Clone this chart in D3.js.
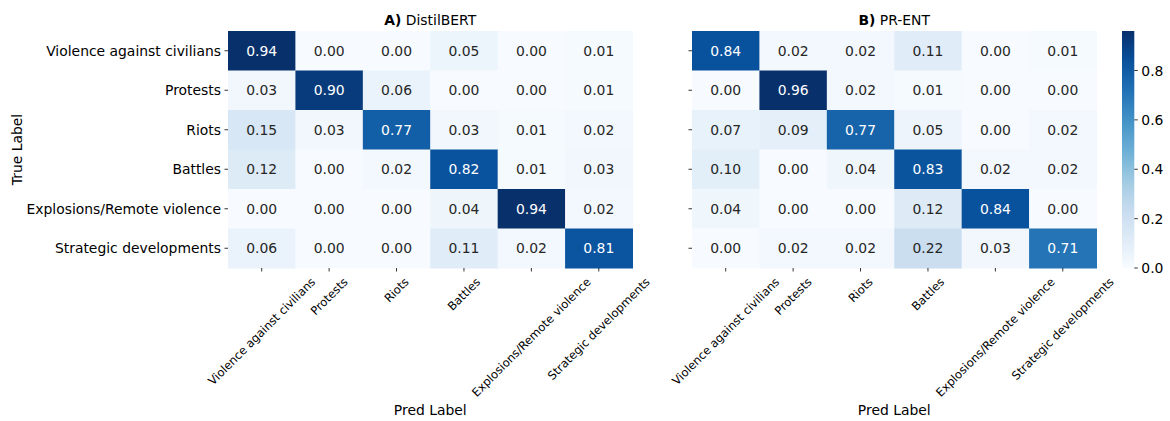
<!DOCTYPE html>
<html>
<head>
<meta charset="utf-8">
<script src="https://cdn.jsdelivr.net/npm/d3@7"></script>
<style>
  body { margin: 0; background: #fff; }
  svg { font-family: "DejaVu Sans", sans-serif; font-size: 13.9px; }
</style>
</head>
<body>
<svg id="chart" width="1170" height="421"></svg>
<script>
// Class names (rows = true label, cols = predicted label)
const categories = [
  "Violence against civilians",
  "Protests",
  "Riots",
  "Battles",
  "Explosions/Remote violence",
  "Strategic developments"
];

const distilbertValues = [
  [0.94, 0.00, 0.00, 0.05, 0.00, 0.01],
  [0.03, 0.90, 0.06, 0.00, 0.00, 0.01],
  [0.15, 0.03, 0.77, 0.03, 0.01, 0.02],
  [0.12, 0.00, 0.02, 0.82, 0.01, 0.03],
  [0.00, 0.00, 0.00, 0.04, 0.94, 0.02],
  [0.06, 0.00, 0.00, 0.11, 0.02, 0.81]
];

const prentValues = [
  [0.84, 0.02, 0.02, 0.11, 0.00, 0.01],
  [0.00, 0.96, 0.02, 0.01, 0.00, 0.00],
  [0.07, 0.09, 0.77, 0.05, 0.00, 0.02],
  [0.10, 0.00, 0.04, 0.83, 0.02, 0.02],
  [0.04, 0.00, 0.00, 0.12, 0.84, 0.00],
  [0.00, 0.02, 0.02, 0.22, 0.03, 0.71]
];

const colorbarTicks = [0.0, 0.2, 0.4, 0.6, 0.8];

// matplotlib "Blues" segment colours
const BLUES = ["#f7fbff", "#deebf7", "#c6dbef", "#9ecae1", "#6baed6",
               "#4292c6", "#2171b5", "#08519c", "#08306b"];

const TICK = 3.5, PAD = 3.5;
const XLAB_SIZE = 11.6;
const plotTop = 31, plotBottom = 268;

const svg = d3.select("#chart");

function bluesScale(vmin, vmax) {
  const stops = BLUES.map((c, i) => vmin + (vmax - vmin) * i / (BLUES.length - 1));
  return d3.scaleLinear().domain(stops).range(BLUES).interpolate(d3.interpolateRgb).clamp(true);
}

// seaborn picks annotation colour by relative luminance
function textColor(fill) {
  const c = d3.rgb(fill);
  const lin = v => { v /= 255; return v <= 0.03928 ? v / 12.92 : Math.pow((v + 0.055) / 1.055, 2.4); };
  const lum = 0.2126 * lin(c.r) + 0.7152 * lin(c.g) + 0.0722 * lin(c.b);
  return lum > 0.408 ? "#262626" : "#ffffff";
}

function drawHeatmap(values, x0, x1, letter, name, showYLabels) {
  const g = svg.append("g");
  const flat = values.flat();
  const color = bluesScale(d3.min(flat), d3.max(flat));

  const x = d3.scaleBand().domain(categories).range([x0, x1]);
  const y = d3.scaleBand().domain(categories).range([plotTop, plotBottom]);

  const cells = [];
  values.forEach((row, i) => row.forEach((v, j) => cells.push({ r: categories[i], c: categories[j], v })));

  g.selectAll("rect.cell").data(cells).enter().append("rect")
    .attr("class", "cell")
    .attr("x", d => x(d.c))
    .attr("y", d => y(d.r))
    .attr("width", x.bandwidth() + 0.5)
    .attr("height", y.bandwidth() + 0.5)
    .attr("fill", d => color(d.v));

  g.selectAll("text.annot").data(cells).enter().append("text")
    .attr("class", "annot")
    .attr("x", d => x(d.c) + x.bandwidth() / 2)
    .attr("y", d => y(d.r) + y.bandwidth() / 2)
    .attr("text-anchor", "middle")
    .attr("dominant-baseline", "central")
    .attr("fill", d => textColor(color(d.v)))
    .text(d => d.v.toFixed(2));

  // y ticks
  g.selectAll("line.ytick").data(categories).enter().append("line")
    .attr("x1", x0 - TICK).attr("x2", x0)
    .attr("y1", d => y(d) + y.bandwidth() / 2)
    .attr("y2", d => y(d) + y.bandwidth() / 2)
    .attr("stroke", "#000").attr("stroke-width", 0.8);

  if (showYLabels) {
    g.selectAll("text.ylab").data(categories).enter().append("text")
      .attr("x", x0 - TICK - PAD)
      .attr("y", d => y(d) + y.bandwidth() / 2)
      .attr("text-anchor", "end")
      .attr("dominant-baseline", "central")
      .text(d => d);
  }

  // x ticks
  g.selectAll("line.xtick").data(categories).enter().append("line")
    .attr("x1", d => x(d) + x.bandwidth() / 2)
    .attr("x2", d => x(d) + x.bandwidth() / 2)
    .attr("y1", plotBottom).attr("y2", plotBottom + TICK)
    .attr("stroke", "#000").attr("stroke-width", 0.8);

  // rotated x labels, bbox centred on tick (matplotlib default rotation mode)
  const fontH = XLAB_SIZE * 1.17;
  g.selectAll("g.xlab").data(categories).enter().append("g")
    .each(function (d) {
      const gg = d3.select(this);
      const t = gg.append("text")
        .attr("font-size", XLAB_SIZE)
        .attr("text-anchor", "middle")
        .attr("dominant-baseline", "central")
        .attr("transform", "rotate(-45)")
        .text(d);
      const w = t.node().getComputedTextLength();
      const half = (w + fontH) / (2 * Math.SQRT2);
      gg.attr("transform", `translate(${x(d) + x.bandwidth() / 2},${plotBottom + TICK + PAD + half})`);
    });

  // title
  const title = g.append("text")
    .attr("x", (x0 + x1) / 2).attr("y", 25)
    .attr("text-anchor", "middle");
  title.append("tspan").attr("font-weight", "bold").text(letter + ")");
  title.append("tspan").text(" " + name);

  g.append("text")
    .attr("x", (x0 + x1) / 2).attr("y", 415)
    .attr("text-anchor", "middle")
    .text("Pred Label");

  return color;
}

drawHeatmap(distilbertValues, 228, 632.5, "A", "DistilBERT", true);
const rightColor = drawHeatmap(prentValues, 692, 1096.5, "B", "PR-ENT", false);

svg.append("text")
  .attr("transform", `translate(22,${(plotTop + plotBottom) / 2}) rotate(-90)`)
  .attr("text-anchor", "middle")
  .text("True Label");

// colorbar
const cbX = 1122, cbW = 12.3;
const [vmin, vmax] = d3.extent(prentValues.flat());
const cbScale = d3.scaleLinear().domain([vmin, vmax]).range([plotBottom, plotTop]);

const grad = svg.append("defs").append("linearGradient")
  .attr("id", "cbgrad").attr("x1", 0).attr("y1", 1).attr("x2", 0).attr("y2", 0);
d3.range(0, 1.0001, 0.05).forEach(t => {
  grad.append("stop").attr("offset", t).attr("stop-color", rightColor(vmin + t * (vmax - vmin)));
});
svg.append("rect")
  .attr("x", cbX).attr("y", plotTop)
  .attr("width", cbW).attr("height", plotBottom - plotTop)
  .attr("fill", "url(#cbgrad)");

const cbG = svg.append("g").selectAll("g").data(colorbarTicks).enter().append("g")
  .attr("transform", d => `translate(${cbX + cbW},${cbScale(d)})`);
cbG.append("line").attr("x1", 0).attr("x2", TICK).attr("stroke", "#000").attr("stroke-width", 0.8);
cbG.append("text").attr("x", TICK + PAD).attr("dominant-baseline", "central").text(d => d.toFixed(1));
</script>
</body>
</html>
